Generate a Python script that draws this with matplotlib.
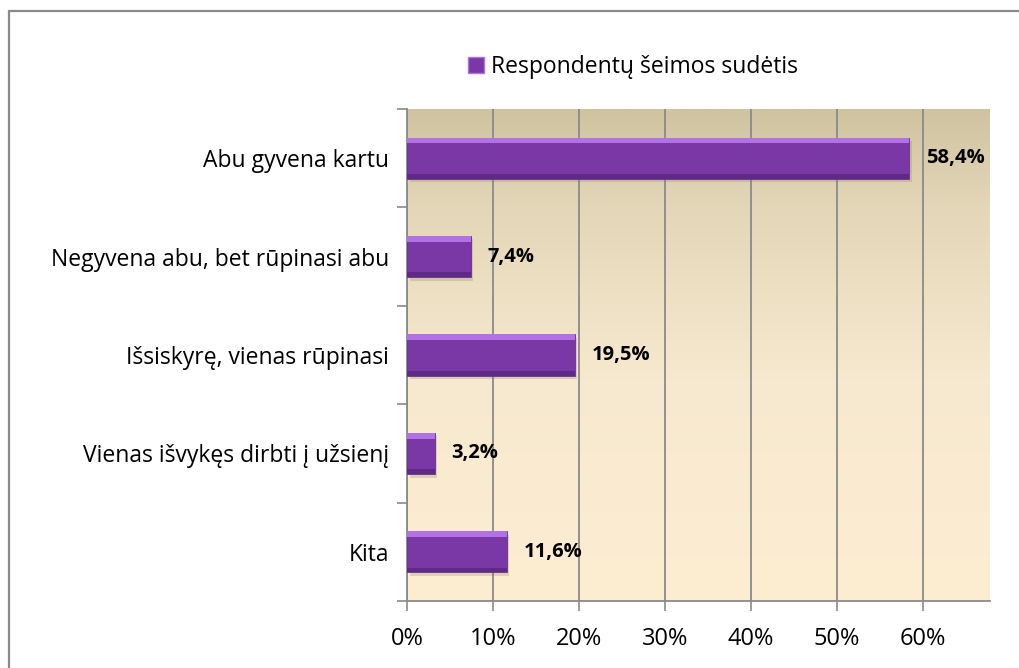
import numpy as np
import matplotlib
matplotlib.use("Agg")
import matplotlib.pyplot as plt
from matplotlib.colors import LinearSegmentedColormap
from matplotlib.patches import Rectangle

categories = ["Abu gyvena kartu",
              "Negyvena abu, bet rūpinasi abu",
              "Išsiskyrę, vienas rūpinasi",
              "Vienas išvykęs dirbti į užsienį",
              "Kita"]
values = [58.4, 7.4, 19.5, 3.2, 11.6]
value_labels = ["58,4%", "7,4%", "19,5%", "3,2%", "11,6%"]
xticks = [0, 10, 20, 30, 40, 50, 60]
xtick_labels = ["0%", "10%", "20%", "30%", "40%", "50%", "60%"]
series_name = "Respondentų šeimos sudėtis"

plt.rcParams['font.family'] = ['Open Sans', 'DejaVu Sans']

fig = plt.figure(figsize=(10.19, 6.68), dpi=100)
fig.patches.append(Rectangle((9 / 1019, -0.1), 1.2, (668 - 11) / 668 + 0.1,
                             transform=fig.transFigure, fill=False,
                             edgecolor="#8a8a8a", linewidth=1.6))
ax = fig.add_axes([0.3994, 0.1003, 0.9715 - 0.3994, 0.8368 - 0.1003])

# background gradient (tan at top to cream)
bg = LinearSegmentedColormap.from_list("bg", [(0, "#fdeed2"), (0.45, "#f7e9cf"),
                                              (0.8, "#e4d7b8"), (1, "#d0c3a0")])
grad = np.linspace(0, 1, 256).reshape(-1, 1)
ax.imshow(grad, aspect="auto", cmap=bg, origin="lower",
          extent=[0, 1, 0, 1], transform=ax.transAxes, zorder=0)

y = np.arange(len(categories))
h = 0.42
# soft shadow below-right
ax.barh(y + 0.035, values, height=h, left=0.3, color="#7a6a50", alpha=0.22,
        zorder=2, linewidth=0)
ax.barh(y, values, height=h, color="#7a38a6", edgecolor="#6a2e94",
        linewidth=0.6, zorder=3)
# bevel: light top edge, dark bottom edge
ax.barh(y - h / 2 + 0.03, values, height=0.06, color="#b272e6", linewidth=0,
        zorder=4)
ax.barh(y + h / 2 - 0.025, values, height=0.05, color="#5e2a86", linewidth=0,
        zorder=4)

for yi, v, lab in zip(y, values, value_labels):
    ax.annotate(lab, (v, yi), xytext=(12, 0), textcoords="offset points",
                va="center", ha="left", fontsize=14.5, fontweight="bold",
                color="black", zorder=5)

ax.set_xlim(0, 67.8)
ax.set_ylim(len(categories) - 0.5, -0.5)
ax.set_xticks(xticks)
ax.set_xticklabels(xtick_labels, fontsize=17)
ax.set_yticks(y)
ax.set_yticklabels(categories, fontsize=16.5)
ax.set_yticks(np.arange(len(categories) + 1) - 0.5, minor=True)
ax.tick_params(axis="y", which="major", length=0, pad=13)
ax.tick_params(axis="y", which="minor", length=7, width=1.2, color="#8a8a8a",
               direction="out")
ax.tick_params(axis="x", length=7, width=1.2, color="#8a8a8a", pad=12)

ax.grid(axis="x", color="#8a8a8a", linewidth=1.3, zorder=1)
ax.set_axisbelow(True)
for s in ["top", "right"]:
    ax.spines[s].set_visible(False)
for s in ["left", "bottom"]:
    ax.spines[s].set_color("#8a8a8a")
    ax.spines[s].set_linewidth(1.3)

# legend
handle = Rectangle((0, 0), 1, 1, facecolor="#7a38a6", edgecolor="#b272e6",
                   linewidth=1)
fig.legend([handle], [series_name], loc="center", bbox_to_anchor=(0.621, 0.9),
           frameon=False, fontsize=16.5, handlelength=0.7, handleheight=0.7,
           handletextpad=0.3)

fig.savefig("out.png", dpi=100)
